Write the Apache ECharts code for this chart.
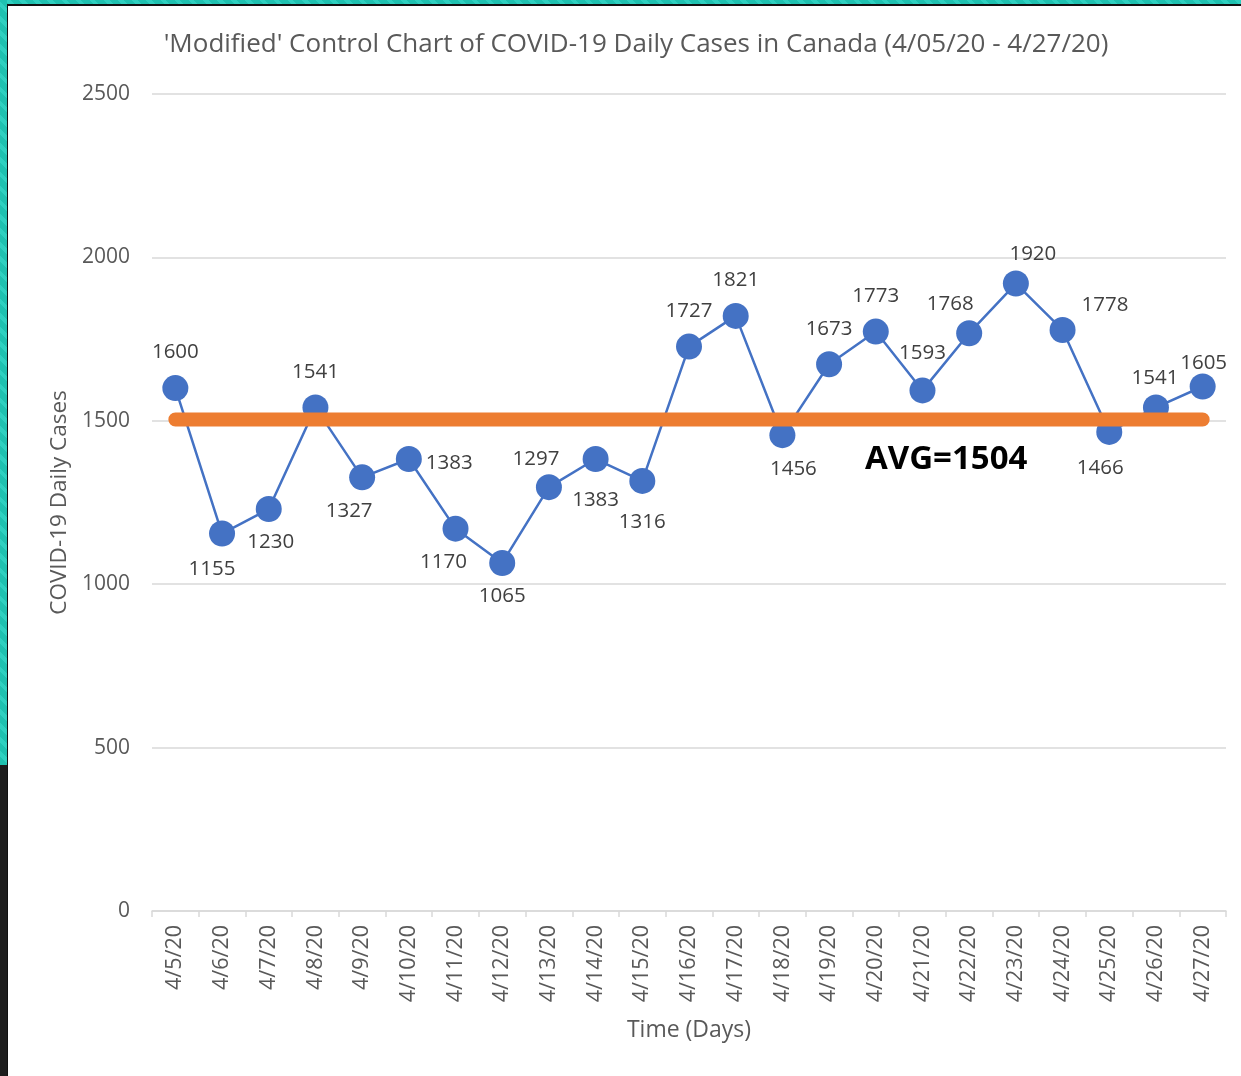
<!DOCTYPE html>
<html>
<head>
<meta charset="utf-8">
<script src="https://cdn.jsdelivr.net/npm/echarts@6/dist/echarts.min.js"></script>
<style>
  html, body { margin: 0; padding: 0; background: #fff; }
  #wrap { position: relative; width: 1241px; height: 1076px; overflow: hidden; }
  #main { position: absolute; left: 0; top: 0; width: 1241px; height: 1076px; }
  .tealTop { position: absolute; left: 0; top: 0; width: 1241px; height: 4px;
    background: repeating-linear-gradient(45deg, #1fc1b0 0 6px, #2fd0c0 6px 10px); }
  .tealLeft { position: absolute; left: 0; top: 0; width: 7px; height: 765px;
    background: repeating-linear-gradient(45deg, #1fc1b0 0 6px, #2fd0c0 6px 10px); }
  .darkLeft { position: absolute; left: 0; top: 765px; width: 7px; height: 311px; background: #1e1e1e; }
  .edgeTop { position: absolute; left: 7px; top: 4px; width: 1234px; height: 2px; background: #111; }
  .edgeLeft { position: absolute; left: 7px; top: 4px; width: 1px; height: 1072px; background: #111; }
</style>
</head>
<body>
<div id="wrap">
  <div id="main"></div>
  <div class="tealTop"></div>
  <div class="tealLeft"></div>
  <div class="darkLeft"></div>
  <div class="edgeTop"></div>
  <div class="edgeLeft"></div>
</div>
<script>
// 日期与每日新增病例
var days = ['4/5/20', '4/6/20', '4/7/20', '4/8/20', '4/9/20', '4/10/20', '4/11/20', '4/12/20',
    '4/13/20', '4/14/20', '4/15/20', '4/16/20', '4/17/20', '4/18/20', '4/19/20', '4/20/20',
    '4/21/20', '4/22/20', '4/23/20', '4/24/20', '4/25/20', '4/26/20', '4/27/20'];
var cases = [1600, 1155, 1230, 1541, 1327, 1383, 1170, 1065, 1297, 1383, 1316, 1727,
    1821, 1456, 1673, 1773, 1593, 1768, 1920, 1778, 1466, 1541, 1605];
var avgValue = 1504;
var yTicks = [0, 500, 1000, 1500, 2000, 2500];

// 每个数据标签的位置（参考原图手动摆放）
var labelPos = [
    ['top', [0, -4]], ['bottom', [-10, 4]], ['bottom', [2, 2]], ['top', [0, -4]],
    ['bottom', [-13, 2]], ['right', [-4, 4]], ['bottom', [-12, 2]], ['bottom', [0, 2]],
    ['top', [-13, 4]], ['bottom', [0, 10]], ['bottom', [0, 10]], ['top', [0, -4]],
    ['top', [0, -4]], ['bottom', [11, 2]], ['top', [0, -4]], ['top', [0, -4]],
    ['top', [0, -6]], ['top', [-19, 2]], ['top', [17, 2]], ['right', [-2, -25]],
    ['bottom', [-9, 5]], ['top', [-1, 2]], ['top', [1, 8]]
];

var caseData = cases.map(function (v, i) {
    return {
        value: v,
        label: { position: labelPos[i][0], offset: labelPos[i][1] }
    };
});

var avgData = days.map(function () { return avgValue; });

var myChart = echarts.init(document.getElementById('main'));

var option = {
    backgroundColor: 'transparent',
    animation: false,
    textStyle: { fontFamily: 'Open Sans' },
    title: {
        text: "'Modified' Control Chart of COVID-19 Daily Cases in Canada (4/05/20 - 4/27/20)",
        left: 631,
        textAlign: 'center',
        top: 27,
        textStyle: { fontSize: 26, fontWeight: 'normal', color: '#595959', fontFamily: 'Open Sans' }
    },
    grid: { left: 152, right: 15, top: 94, bottom: 165 },
    xAxis: {
        type: 'category',
        data: days,
        boundaryGap: true,
        name: 'Time (Days)',
        nameLocation: 'middle',
        nameGap: 108,
        nameTextStyle: { fontSize: 23, color: '#595959' },
        axisLine: { lineStyle: { color: '#d9d9d9', width: 1.5 } },
        axisTick: { show: true, alignWithLabel: false, length: 6, lineStyle: { color: '#d9d9d9', width: 1.5 } },
        axisLabel: { rotate: 90, fontSize: 21.5, color: '#595959', margin: 14, interval: 0 }
    },
    yAxis: {
        type: 'value',
        min: yTicks[0],
        max: yTicks[yTicks.length - 1],
        interval: 500,
        name: 'COVID-19 Daily Cases',
        nameLocation: 'middle',
        nameGap: 80,
        nameTextStyle: { fontSize: 22.5, color: '#595959' },
        axisLine: { show: false },
        axisTick: { show: false },
        axisLabel: { fontSize: 21, color: '#595959', margin: 22, formatter: function (v) { return String(v); } },
        splitLine: { lineStyle: { color: '#d9d9d9', width: 1.5 } }
    },
    series: [{
        name: 'Daily Cases',
        type: 'line',
        data: caseData,
        symbol: 'circle',
        symbolSize: 26,
        itemStyle: { color: '#4472C4' },
        lineStyle: { color: '#4472C4', width: 2.5 },
        label: { show: true, fontSize: 20.5, color: '#404040', distance: 8 },
        z: 2
    }, {
        name: 'AVG',
        type: 'line',
        data: avgData,
        symbol: 'none',
        lineStyle: { color: '#ED7D31', width: 14, cap: 'round' },
        z: 3,
        // 平均值文字挂在 4/22 附近
        markPoint: {
            symbol: 'circle',
            symbolSize: 0,
            data: [{
                coord: [days[17], avgValue],
                label: {
                    show: true,
                    position: 'bottom',
                    offset: [-23, 19],
                    formatter: 'AVG=' + avgValue,
                    color: '#000',
                    fontSize: 33,
                    fontWeight: 'bold'
                }
            }]
        }
    }]
};

myChart.setOption(option);
</script>
</body>
</html>
